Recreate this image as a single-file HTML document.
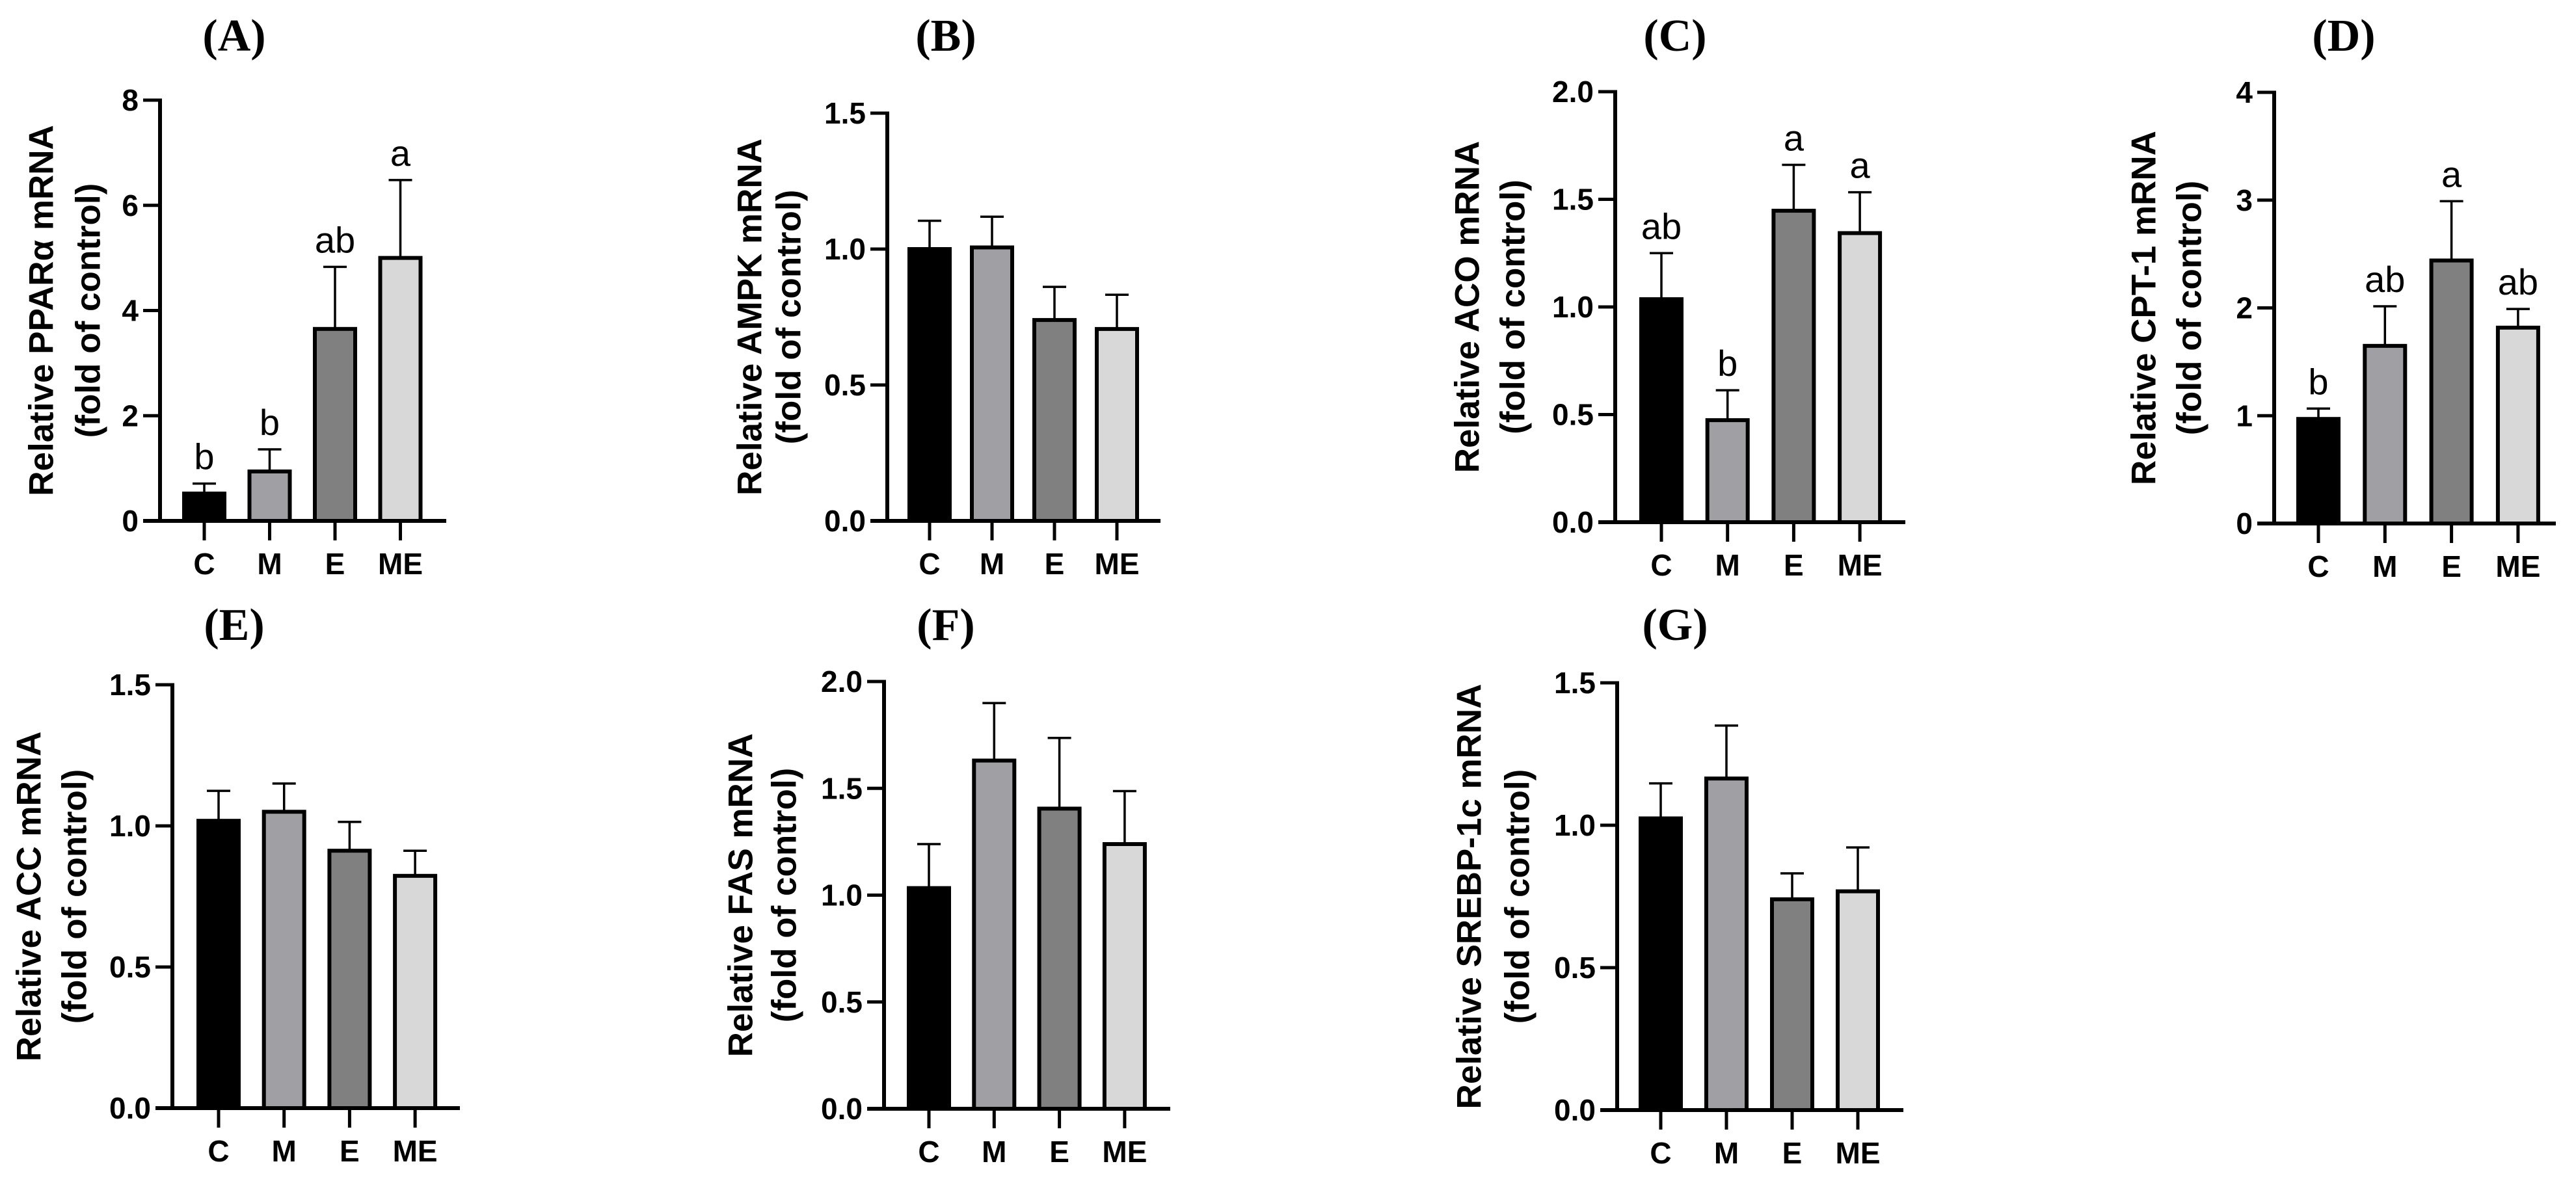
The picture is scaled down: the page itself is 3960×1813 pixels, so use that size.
<!DOCTYPE html>
<html><head><meta charset="utf-8"><style>
html,body{margin:0;padding:0;background:#fff;}
svg{display:block;}
text{font-family:"Liberation Sans",sans-serif;}
</style></head>
<body>
<svg id="fig" width="3960" height="1813" viewBox="0 0 3960 1813" xmlns="http://www.w3.org/2000/svg"></svg>
<script>
const groups = ["C","M","E","ME"];
const colors = ["#000000","#a0a0a4","#808080","#d8d8d8"];
const valsA = [0.52, 0.94, 3.65, 5.0];
const errA  = [0.71, 1.36, 4.83, 6.48];
const sigA  = ["b","b","ab","a"];
const ticksA = [0,2,4,6,8];
const valsB = [1.0, 1.006, 0.739, 0.706];
const errB  = [1.104, 1.119, 0.861, 0.832];
const ticksB = [0,0.5,1.0,1.5];
const valsC = [1.036, 0.474, 1.447, 1.343];
const errC  = [1.25, 0.613, 1.66, 1.533];
const sigC  = ["ab","b","a","a"];
const ticksC = [0,0.5,1.0,1.5,2.0];
const valsD = [0.97, 1.648, 2.44, 1.817];
const errD  = [1.066, 2.015, 2.99, 1.99];
const sigD  = ["b","ab","a","ab"];
const ticksD = [0,1,2,3,4];
const valsE = [1.018, 1.05, 0.912, 0.823];
const errE  = [1.124, 1.15, 1.014, 0.912];
const ticksE = [0,0.5,1.0,1.5];
const valsF = [1.033, 1.63, 1.405, 1.239];
const errF  = [1.239, 1.899, 1.736, 1.487];
const ticksF = [0,0.5,1.0,1.5,2.0];
const valsG = [1.024, 1.164, 0.74, 0.768];
const errG  = [1.147, 1.35, 0.831, 0.922];
const ticksG = [0,0.5,1.0,1.5];

const NS = "http://www.w3.org/2000/svg";
const svg = document.getElementById("fig");
function mk(tag, attrs, parent){
  const e = document.createElementNS(NS, tag);
  for (const k in attrs) e.setAttribute(k, attrs[k]);
  (parent||svg).appendChild(e);
  return e;
}
function panel(p){
  const g = mk("g", {});
  
  
  const ymax = p.ticks[p.ticks.length-1];
  const yS = v => p.y0 - (v/ymax)*(p.y0 - p.yTop);
  const xS = i => p.ax + p.off + i*p.step;
  const t = mk("text", {x:p.tx, y:p.ty, "text-anchor":"middle", "font-size":70, "font-weight":"bold", style:"font-family:'Liberation Serif',serif"}, g);
  t.textContent = "(" + p.id + ")";
  
  
  const cy = (p.yTop + p.y0)/2;
  [[p.l1x, "Relative " + p.gene + " mRNA"], [p.l2x, "(fold of control)"]].forEach((L, k) => {
    const tl = mk("text", {x:0, y:0, transform:`translate(${L[0]},${cy}) rotate(-90)`, "text-anchor":"middle", "dominant-baseline":"central", "font-size":53, "font-weight":"bold"}, g);
    tl.textContent = L[1];
    
    
  });
  groups.forEach((c, i) => {
    const w = 62, x = xS(i);
    const top = yS(p.vals[i]), et = yS(p.err[i]);
    const eb = mk("line", {x1:x, x2:x, y1:top, y2:et, stroke:"#000", "stroke-width":3.5}, g);
    
    
    const cap = mk("line", {x1:x-18, x2:x+18, y1:et, y2:et, stroke:"#000", "stroke-width":3.5}, g);
    
    
    const r = mk("rect", {x:x-w/2, y:top, width:w, height:p.y0-top, fill:colors[i], stroke:"#000", "stroke-width":6}, g);
    
    
    if (p.sig){
      const s = mk("text", {x:x, y:et-22, "text-anchor":"middle", "font-size":56}, g);
      s.textContent = p.sig[i];
      
      
    }
    const tk = mk("line", {x1:x, x2:x, y1:p.y0, y2:p.y0+30, stroke:"#000", "stroke-width":5}, g);
    
    
    const lb = mk("text", {x:x, y:p.y0+82, "text-anchor":"middle", "font-size":46, "font-weight":"bold"}, g);
    lb.textContent = c;
    
    
  });
  const ya = mk("line", {x1:p.ax, x2:p.ax, y1:p.yTop-2.5, y2:p.y0+2.5, stroke:"#000", "stroke-width":6}, g);
  
  
  const xa = mk("line", {x1:p.ax-26, x2:p.xr, y1:p.y0, y2:p.y0, stroke:"#000", "stroke-width":6}, g);
  
  
  p.ticks.forEach(v => {
    const y = yS(v);
    const tk = mk("line", {x1:p.ax-26, x2:p.ax, y1:y, y2:y, stroke:"#000", "stroke-width":5}, g);
    
    
    const tl = mk("text", {x:p.ax-33, y:y, "text-anchor":"end", "dominant-baseline":"central", "font-size":46, "font-weight":"bold"}, g);
    tl.textContent = p.dec ? v.toFixed(1) : String(v);
    
    
  });
}
panel({id:"A", gene:"PPARα", vals:valsA, err:errA, sig:sigA, ticks:ticksA, dec:false, ax:246, yTop:154, y0:801, xr:686, off:68, step:100.5, tx:360, ty:78, l1x:64, l2x:136});
panel({id:"B", gene:"AMPK", vals:valsB, err:errB, ticks:ticksB, dec:true, ax:1364, yTop:174, y0:801, xr:1784, off:65, step:96, tx:1454, ty:78, l1x:1153, l2x:1213});
panel({id:"C", gene:"ACO", vals:valsC, err:errC, sig:sigC, ticks:ticksC, dec:true, ax:2483, yTop:141, y0:803, xr:2929, off:71, step:101.7, tx:2575, ty:78, l1x:2256, l2x:2326});
panel({id:"D", gene:"CPT-1", vals:valsD, err:errD, sig:sigD, ticks:ticksD, dec:false, ax:3496, yTop:142, y0:805, xr:3929, off:68, step:102.3, tx:3603, ty:78, l1x:3296, l2x:3366});
panel({id:"E", gene:"ACC", vals:valsE, err:errE, ticks:ticksE, dec:true, ax:265, yTop:1053, y0:1704, xr:707, off:71, step:100.7, tx:360, ty:984, l1x:45, l2x:115});
panel({id:"F", gene:"FAS", vals:valsF, err:errF, ticks:ticksF, dec:true, ax:1359, yTop:1048, y0:1705, xr:1799, off:69, step:100.3, tx:1454, ty:984, l1x:1139, l2x:1206});
panel({id:"G", gene:"SREBP-1c", vals:valsG, err:errG, ticks:ticksG, dec:true, ax:2486, yTop:1050, y0:1707, xr:2926, off:67, step:101, tx:2575, ty:984, l1x:2259, l2x:2333});
</script>
</body></html>
